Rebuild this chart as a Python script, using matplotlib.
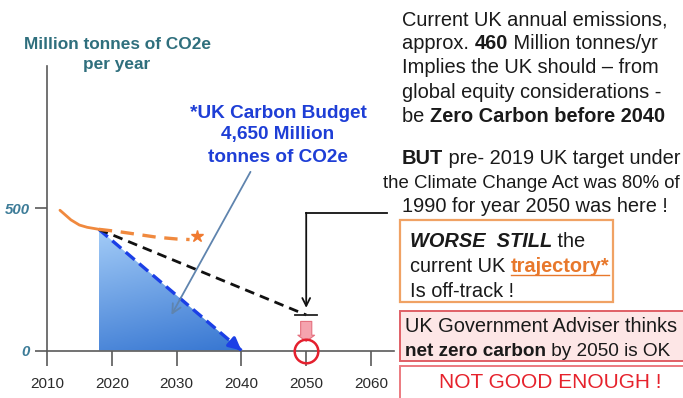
import numpy as np
import matplotlib
matplotlib.use("Agg")
import matplotlib.pyplot as plt
from matplotlib.patches import Polygon, Rectangle, FancyArrowPatch
from matplotlib import font_manager as fm

W, H, DPI = 683, 398, 100

# ---- data -------------------------------------------------------------
year_ticks = [2010, 2020, 2030, 2040, 2050, 2060]
emission_ticks = [0, 500]

# recent measured emissions (Mt CO2e / yr)
hist_years = [2012, 2013.7, 2015, 2016.2, 2018]
hist_emissions = [493, 459, 441, 433, 426]

# current policy trajectory
traj_years = [2018, 2021, 2024, 2027, 2030, 2032]
traj_emissions = [426, 418, 408, 398, 392, 390]
traj_star_year, traj_star_value = 2033.2, 402

# equitable carbon budget pathway: straight line to zero by 2040
budget_years = [2018, 2040]
budget_emissions = [426, 0]

# Climate Change Act (80% of 1990 by 2050)
cca_years = [2018, 2050]
cca_emissions = [426, 125]
cca_target_year, cca_target_value = 2050, 125

# net zero by 2050
net_zero_year, net_zero_value = 2050, 0
adviser_arrow_from, adviser_arrow_to = 112, 22

axis_title_lines = ["Million tonnes of CO2e", "per year"]
budget_lines = ["*UK Carbon Budget", "4,650 Million", "tonnes of CO2e"]

# ---- fonts --------------------------------------------------------------
names = {f.name for f in fm.fontManager.ttflist}
SANS = "Liberation Sans" if "Liberation Sans" in names else "DejaVu Sans"
NARROW = "Liberation Sans Narrow" if "Liberation Sans Narrow" in names else SANS
NARROW_SCALE = 1.0 if NARROW != SANS else 0.93
plt.rcParams["font.family"] = [SANS, "DejaVu Sans"]

fig = plt.figure(figsize=(W / DPI, H / DPI), dpi=DPI, facecolor="white")


def fx(x):
    return x / W


def fy(y):
    return 1 - y / H


# ---- axes -------------------------------------------------------------
x0_px, x_axis_px, top_px, right_px = 47, 350.5, 66, 393.7
ax = fig.add_axes([fx(x0_px), fy(x_axis_px), (right_px - x0_px) / W,
                   (x_axis_px - top_px) / H])
ax.set_xlim(2010, 2063.5)
ax.set_ylim(0, 1000)
ax.set_facecolor("none")
for s in ("top", "right"):
    ax.spines[s].set_visible(False)
for s in ("left", "bottom"):
    ax.spines[s].set_color("#5a5a5a")
    ax.spines[s].set_linewidth(1.2)

ax.set_xticks(year_ticks)
ax.set_xticklabels([str(y) for y in year_ticks])
ax.set_yticks(emission_ticks)
ax.set_yticklabels([str(v) for v in emission_ticks])
x_tick_size = 12.5 if NARROW != SANS else 11.0
ax.tick_params(axis="x", direction="out", length=10.5, width=1.2,
               color="#5a5a5a", pad=8.5, labelsize=x_tick_size,
               labelcolor="#2b2b2b")
ax.tick_params(axis="y", direction="out", length=8.6, width=1.2,
               color="#5a5a5a", pad=3.5)
for lab in ax.get_xticklabels():
    lab.set_family(NARROW)
for lab in ax.get_yticklabels():
    lab.set_fontsize(10.8)
    lab.set_fontweight("bold")
    lab.set_fontstyle("italic")
    lab.set_color("#3d7c98")

# budget area with a vertical blue gradient
apex_year, apex_val = budget_years[0], budget_emissions[0]
poly = Polygon([(apex_year, 0), (apex_year, apex_val),
                (budget_years[1], budget_emissions[1])], closed=True,
               facecolor="none", edgecolor="none")
ax.add_patch(poly)
gy, gx = np.mgrid[0:1:200j, 0:1:200j]
t = np.clip(0.8 * gy + 0.2 * (1 - gx), 0, 1)
light = np.array([0.64, 0.80, 0.97])
dark = np.array([0.21, 0.46, 0.82])
img = dark[None, None, :] * (1 - t[..., None]) + light[None, None, :] * t[..., None]
im = ax.imshow(img, extent=[apex_year, budget_years[1], 0, apex_val],
               origin="lower", aspect="auto", zorder=1)
im.set_clip_path(poly)

# budget pathway (blue dashed, arrow head at zero)
ax.plot(budget_years, budget_emissions, color="#1b3fe6", lw=2.4,
        ls=(0, (3.5, 1.8)), zorder=4, dash_capstyle="butt")
slope = (budget_emissions[1] - budget_emissions[0]) / (budget_years[1] - budget_years[0])
ax.annotate("", xy=(budget_years[1], budget_emissions[1]),
            xytext=(budget_years[1] - 1.5, budget_emissions[1] - 1.5 * slope),
            arrowprops=dict(arrowstyle="-|>", color="#1b3fe6", lw=2.4,
                            mutation_scale=18, shrinkA=0, shrinkB=0),
            zorder=5)

# Climate Change Act pathway (black dashed)
ax.plot(cca_years, cca_emissions, color="#111111", lw=2.0,
        ls=(0, (3.5, 2.2)), zorder=4)
ax.plot([cca_target_year - 1.7, cca_target_year + 1.7],
        [cca_target_value, cca_target_value], color="#222222", lw=1.3, zorder=4)

# measured emissions and current trajectory (orange)
ax.plot(hist_years, hist_emissions, color="#f0893e", lw=2.0, zorder=5,
        solid_capstyle="round")
ax.plot(traj_years, traj_emissions, color="#f0893e", lw=2.4,
        ls=(0, (4, 2.6)), zorder=5)
ax.plot([traj_star_year], [traj_star_value], marker="*", color="#f07a30",
        markersize=9, zorder=5, clip_on=False)

# net zero by 2050: pink arrow and red circle
ax.add_patch(FancyArrowPatch((net_zero_year, adviser_arrow_from),
                             (net_zero_year, adviser_arrow_to),
                             arrowstyle="simple,head_width=1.2,head_length=0.45,tail_width=0.8",
                             mutation_scale=10, facecolor="#f5a3ae",
                             edgecolor="#e5707e", lw=0.8, zorder=6))
ax.plot([net_zero_year], [net_zero_value], marker="o", ms=17, mfc="none",
        mec="#e4202e", mew=1.8, zorder=7, clip_on=False)

# pointer from the budget label into the shaded area
ax.annotate("", xy=(2029.2, 125), xytext=(2041.4, 628),
            arrowprops=dict(arrowstyle="->", color="#5f84ae", lw=1.3,
                            mutation_scale=16, shrinkA=0, shrinkB=0),
            zorder=8, annotation_clip=False)

# connector from the CCA note down to the 2050 target
ax.plot([2062.4, cca_target_year], [484, 484], color="#111111", lw=1.3,
        clip_on=False, zorder=6)
ax.annotate("", xy=(cca_target_year, 150), xytext=(cca_target_year, 484),
            arrowprops=dict(arrowstyle="->", color="#111111", lw=1.3,
                            mutation_scale=14, shrinkA=0, shrinkB=0),
            zorder=6, annotation_clip=False)

# ---- titles inside the chart ------------------------------------------
for line, yc in zip(axis_title_lines, [43, 63]):
    fig.text(fx(117), fy(yc), line, ha="center", va="center_baseline",
             fontsize=12.4, fontweight="bold", color="#2f6f7d")
for line, yc in zip(budget_lines, [111, 133, 155]):
    fig.text(fx(278), fy(yc), line, ha="center", va="center_baseline",
             fontsize=13.7, fontweight="bold", color="#1e3ed6")

# ---- rich text on the right -------------------------------------------
renderer = fig.canvas.get_renderer()


def text_width(s, **kw):
    t1 = fig.text(0, 0, s + "|", **kw)
    w1 = t1.get_window_extent(renderer).width
    t1.remove()
    t2 = fig.text(0, 0, "|", **kw)
    w2 = t2.get_window_extent(renderer).width
    t2.remove()
    return w1 - w2


def rich_line(x, yc, runs, size=14.4, family=None):
    family = family or SANS
    base = yc + 0.35 * size * DPI / 72
    for s, style in runs:
        style = dict(style)
        underline = style.pop("underline", False)
        kw = dict(fontsize=size, family=family, **style)
        fig.text(fx(x), fy(base), s, va="baseline", ha="left", **kw)
        w = text_width(s, **kw)
        if underline:
            fig.add_artist(plt.Line2D([fx(x), fx(x + w)],
                                      [fy(base + 2.5), fy(base + 2.5)],
                                      transform=fig.transFigure,
                                      color=style.get("color", "k"), lw=1.0))
        x += w
    return x


N = {"color": "#1a1a1a"}
B = {"color": "#1a1a1a", "fontweight": "bold"}

rich_line(402, 18, [("Current UK annual emissions,", N)])
rich_line(402, 42, [("approx. ", N), ("460", B), (" Million tonnes/yr", N)])
rich_line(402, 66, [("Implies the UK should \u2013 from", N)])
rich_line(402, 91, [("global equity considerations -", N)])
rich_line(402, 115, [("be ", N), ("Zero Carbon before 2040", B)])

rich_line(402, 157, [("BUT", B), (" pre- 2019 UK target under", N)])
rich_line(383, 181, [("the Climate Change Act was 80% of", N)],
          size=14.4 * NARROW_SCALE, family=NARROW)
rich_line(402, 205, [("1990 for year 2050 was here !", N)])

# boxed notes
fig.add_artist(Rectangle((fx(400), fy(302)), (613 - 400) / W, (302 - 220) / H,
                         transform=fig.transFigure, facecolor="white",
                         edgecolor="#f0a264", lw=1.6))
rich_line(410, 240, [("WORSE  STILL", dict(B, fontstyle="italic")), (" the", N)])
rich_line(410, 265, [("current UK ", N),
                     ("trajectory*", {"color": "#e8782c", "fontweight": "bold",
                                      "underline": True})])
rich_line(410, 290, [("Is off-track !", N)])

fig.add_artist(Rectangle((fx(400), fy(361)), (685 - 400) / W, (361 - 311) / H,
                         transform=fig.transFigure, facecolor="#fde6e6",
                         edgecolor="#e05f66", lw=1.4))
rich_line(405, 325, [("UK Government Adviser thinks", N)])
rich_line(405, 349, [("net zero carbon", B), (" by 2050 is OK", N)], size=13.7)

fig.add_artist(Rectangle((fx(400), fy(402)), (685 - 400) / W, (402 - 366) / H,
                         transform=fig.transFigure, facecolor="white",
                         edgecolor="#ec7a80", lw=1.4))
fig.text(fx(550), fy(383), "NOT GOOD ENOUGH !", ha="center", va="center",
         fontsize=15, color="#e6222c")

fig.savefig("out.png", dpi=DPI, facecolor="white")
